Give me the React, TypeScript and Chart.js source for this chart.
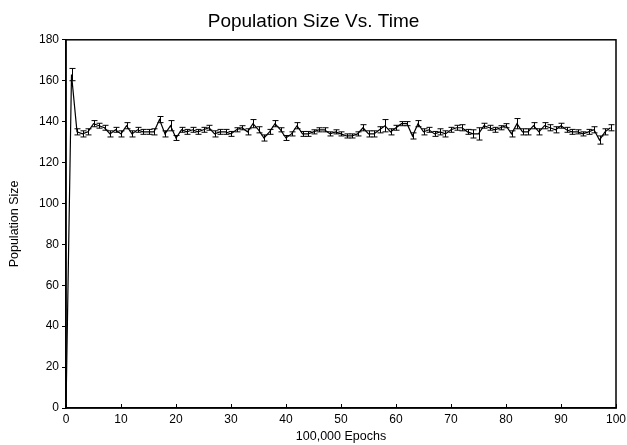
import React, { useEffect, useRef } from "react";
import { Chart, registerables } from "chart.js";

Chart.register(...registerables);

const epochs: number[] = Array.from({ length: 100 }, (_, i) => i);
const popMean: number[] = [
  0, 163, 135, 134, 135, 139, 138, 137, 134, 136,
  134, 138, 134, 136, 135, 135, 135, 141, 134, 138,
  132, 136, 135, 136, 135, 136, 137, 134, 135, 135,
  134, 136, 137, 135, 139, 136, 132, 135, 139, 136,
  132, 134, 138, 134, 134, 135, 136, 136, 134, 135,
  134, 133, 133, 134, 137, 134, 134, 136, 138, 135,
  137, 139, 139, 133, 139, 135, 136, 134, 135, 134,
  136, 137, 137, 135, 134, 134, 138, 137, 136, 137,
  138, 134, 139, 135, 135, 138, 135, 138, 137, 136,
  138, 136, 135, 135, 134, 135, 136, 131, 135, 137,
];
const popErr: number[] = [
  0, 3, 1.5, 1.5, 1.5, 1.5, 1.2, 1.2, 1.5, 1.2,
  1.5, 1.5, 1.5, 1.2, 1.2, 1.2, 1.5, 1.5, 1.5, 2.5,
  1.2, 1.2, 1.2, 1.2, 1.2, 1.2, 1.2, 1.5, 1.2, 1.2,
  1.2, 1, 1, 1.5, 2, 1.5, 1.5, 1.2, 1.5, 1,
  1.2, 1, 1.5, 1.2, 1.2, 1, 1, 1, 1, 1,
  1, 1, 1, 1, 1.5, 1.5, 1.5, 1.5, 3, 1.5,
  1.2, 1, 1, 1.5, 1.5, 1.5, 1.2, 1.2, 1.5, 1.5,
  1.2, 1.2, 1.5, 1.2, 2, 3, 1.2, 1.2, 1.2, 1,
  1, 1.5, 2.5, 1.5, 1.5, 1.5, 1.5, 1.5, 1.5, 1.5,
  1.2, 1.2, 1.2, 1, 1, 1.2, 1.5, 2, 1.5, 1.5,
];
const xTicks: number[] = [0, 10, 20, 30, 40, 50, 60, 70, 80, 90, 100];
const yTicks: number[] = [0, 20, 40, 60, 80, 100, 120, 140, 160, 180];

const FONT = "'Liberation Sans', Arial, sans-serif";

const errorBarPlugin = {
  id: "errorBars",
  afterDatasetsDraw(chart: any) {
    const ctx = chart.ctx;
    const xs = chart.scales.x;
    const ys = chart.scales.y;
    const area = chart.chartArea;
    ctx.save();
    ctx.strokeStyle = "#000";
    ctx.lineWidth = 1;
    for (let i = 0; i < epochs.length; i++) {
      const e = popErr[i];
      if (!e) continue;
      const px = Math.round(xs.getPixelForValue(epochs[i])) + 0.5;
      const top = ys.getPixelForValue(popMean[i] + e);
      const bot = ys.getPixelForValue(popMean[i] - e);
      ctx.beginPath();
      ctx.moveTo(px, top);
      ctx.lineTo(px, bot);
      ctx.moveTo(px - 3, top);
      ctx.lineTo(px + 3, top);
      ctx.moveTo(px - 3, bot);
      ctx.lineTo(px + 3, bot);
      ctx.stroke();
    }
    ctx.lineWidth = 1.5;
    ctx.strokeRect(area.left, area.top, area.right - area.left, area.bottom - area.top);
    ctx.lineWidth = 1;
    ctx.beginPath();
    for (const t of xTicks) {
      const px = Math.round(xs.getPixelForValue(t)) + 0.5;
      ctx.moveTo(px, area.bottom);
      ctx.lineTo(px, area.bottom - 4);
    }
    ctx.stroke();
    ctx.restore();
  },
};

export default function App() {
  const ref = useRef<HTMLCanvasElement | null>(null);
  useEffect(() => {
    if (!ref.current) return;
    const chart = new Chart(ref.current, {
      type: "line",
      data: {
        datasets: [
          {
            data: epochs.map((x, i) => ({ x, y: popMean[i] })),
            borderColor: "#000",
            borderWidth: 1.2,
            pointRadius: 0,
            tension: 0,
            fill: false,
          },
        ],
      },
      options: {
        animation: false,
        responsive: true,
        maintainAspectRatio: false,
        layout: { padding: { left: 0, right: 0, top: 0, bottom: 0 } },
        plugins: {
          legend: { display: false },
          tooltip: { enabled: false },
          title: {
            display: true,
            text: "Population Size Vs. Time",
            color: "#000",
            font: { family: FONT, size: 19, weight: "normal" },
            padding: { top: 10, bottom: 7 },
          },
        },
        scales: {
          x: {
            type: "linear",
            min: 0,
            max: 100,
            afterBuildTicks: (s: any) => {
              s.ticks = xTicks.map((v) => ({ value: v }));
            },
            afterFit: (s: any) => {
              s.height = 37;
              s.paddingRight = 11;
            },
            grid: { display: true, drawOnChartArea: false, drawTicks: false, color: "#000" },
            border: { display: true, color: "#000", width: 1.5 },
            ticks: {
              color: "#000",
              padding: 4,
              maxRotation: 0,
              font: { family: FONT, size: 12 },
            },
            title: {
              display: true,
              text: "100,000 Epochs",
              color: "#000",
              font: { family: FONT, size: 12.5 },
              padding: { top: 0, bottom: 1 },
            },
          },
          y: {
            type: "linear",
            min: 0,
            max: 180,
            afterBuildTicks: (s: any) => {
              s.ticks = yTicks.map((v) => ({ value: v }));
            },
            afterFit: (s: any) => {
              s.width = 66;
            },
            grid: { display: true, drawOnChartArea: false, drawTicks: true, tickLength: 4, color: "#000" },
            border: { display: true, color: "#000", width: 1.5 },
            ticks: {
              color: "#000",
              padding: 3,
              font: { family: FONT, size: 12 },
            },
            title: {
              display: true,
              text: "Population Size",
              color: "#000",
              font: { family: FONT, size: 12.5 },
              padding: { top: 7, bottom: 4 },
            },
          },
        },
      },
      plugins: [errorBarPlugin],
    } as any);
    return () => chart.destroy();
  }, []);
  return (
    <div style={{ position: "fixed", left: 0, top: 0, width: 627, height: 445, background: "#fff" }}>
      <canvas ref={ref} />
    </div>
  );
}
